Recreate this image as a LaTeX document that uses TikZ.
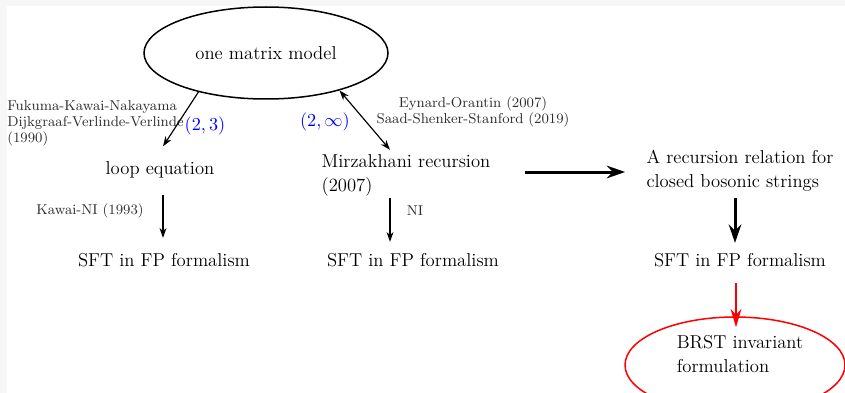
\documentclass[tikz,border=0pt]{standalone}
\usetikzlibrary{shapes.geometric,arrows.meta,calc}
\definecolor{bggray}{HTML}{F7F7F7}
\definecolor{smallgray}{HTML}{2E2E2E}
\tikzset{
  mainlbl/.style={inner sep=0pt, font=\fontsize{11.2}{14.4}\selectfont, text=black},
  smalllbl/.style={inner sep=0pt, font=\fontsize{8.6}{9.6}\selectfont, text=smallgray},
  mathlbl/.style={inner sep=0pt, font=\fontsize{11.2}{14.4}\selectfont, text=blue},
  thinarr/.style={line width=0.7pt, -{Stealth[length=6pt,width=4.2pt]}},
  thinboth/.style={line width=0.7pt, {Stealth[length=6pt,width=4.2pt]}-{Stealth[length=6pt,width=4.2pt]}},
  thickarr/.style={line width=1.8pt, -{Stealth[length=11pt,width=7.5pt]}},
  redarr/.style={line width=1.2pt, red, -{Stealth[length=11pt,width=6.5pt]}},
  ellblack/.style={ellipse, draw=black, line width=0.9pt, inner sep=0pt},
  ellred/.style={ellipse, draw=red, line width=0.9pt, inner sep=0pt},
}
\begin{document}
\begin{tikzpicture}[x=0.6pt, y=-0.6pt]
  \useasboundingbox (0,0) rectangle (845,393);
  \fill[bggray] (0,0) rectangle (845,393);
  \fill[white] (7,6) rectangle (845,393);

  % nodes
  \node[ellblack, minimum width=146.4pt, minimum height=55.2pt, font=\fontsize{11.2}{14.4}\selectfont] (om) at (266,53) {one matrix model};
  \node[mainlbl] (loop) at (160,170) {loop equation};
  \node[mainlbl] (sft1) at (164,260) {SFT in FP formalism};
  \node[mainlbl, align=left] (mirz) at (406,175) {Mirzakhani recursion\\(2007)};
  \node[mainlbl] (sft2) at (413,260) {SFT in FP formalism};
  \node[mainlbl, align=left] (rec) at (740,171) {A recursion relation for\\closed bosonic strings};
  \node[mainlbl] (sft3) at (740,260) {SFT in FP formalism};
  \node[ellred, minimum width=132pt, minimum height=57.6pt] (brst) at (735,365) {};
  \node[mainlbl, align=left] (brsttxt) at (740,354) {BRST invariant\\formulation};

  % labels
  \node[smalllbl, align=left, anchor=west] (fkn) at (7,123) {Fukuma-Kawai-Nakayama\\Dijkgraaf-Verlinde-Verlinde\\(1990)};
  \node[mathlbl] (l23) at (205,126) {$(2,3)$};
  \node[mathlbl] (l2inf) at (325,122) {$(2,\infty)$};
  \node[smalllbl, align=center] (eo) at (473,112) {Eynard-Orantin (2007)\\Saad-Shenker-Stanford (2019)};
  \node[smalllbl] (kni) at (90,211) {Kawai-NI (1993)};
  \node[smalllbl] (ni) at (415,211) {NI};

  % connectors
  \draw[thinarr] (om.210) -- ($(loop.north)+(3,-15)$);
  \draw[thinarr] ($(loop.south)+(3,16)$) -- ($(sft1.north)+(-1,-15)$);
  \draw[thinboth] (om.-27) -- ($(mirz.north)+(-16,-4)$);
  \draw[thinarr] ($(mirz.south)+(-16,2)$) -- ($(sft2.north)+(-23,-11)$);
  \draw[thickarr] ($(mirz.east)+(34,-3)$) -- ($(rec.west)+(-21,1)$);
  \draw[thickarr] ($(rec.south)+(-5,6)$) -- ($(sft3.north)+(-5,-10)$);
  \draw[redarr] ($(sft3.south)+(-4,16)$) -- ($(brst.north)+(1,11)$);
\end{tikzpicture}
\end{document}
